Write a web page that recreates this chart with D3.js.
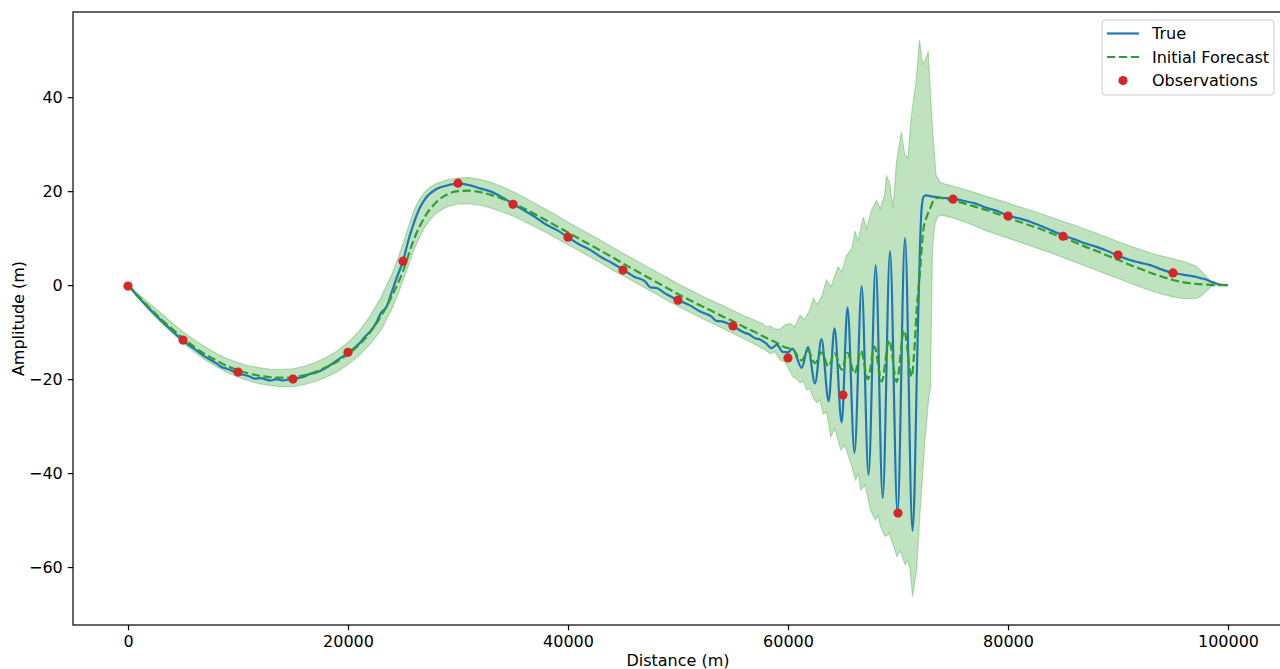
<!DOCTYPE html>
<html>
<head>
<meta charset="utf-8">
<script src="https://cdn.jsdelivr.net/npm/d3@7"></script>
<style>
  html, body { margin: 0; padding: 0; background: #fff; }
  svg { display: block; font-family: "DejaVu Sans", sans-serif; }
</style>
</head>
<body>
<svg id="chart" width="1280" height="669"></svg>
<script>
// ---- Data -------------------------------------------------------------
// True surface profile (distance in m, amplitude in m)
const trueX = [0,1000,2000,3000,4000,5000,6000,7000,8000,8500,9000,10000,11000,11500,12000,13000,13500,14000,15000,16000,16500,17000,18000,19000,20000,21000,21500,22000,22500,23000,23500,24000,24500,25000,25500,26000,26500,27000,28000,29000,30000,31000,32000,33000,34000,35000,36000,37000,38000,39000,40000,41000,42000,43000,44000,45000,46000,47000,47500,48000,49000,50000,51000,52000,53000,53500,54000,55000,56000,56500,57000,57500,58000,58500,59000,59500,60000,60400,61245,61818,62455,63045,63690,64227,64882,65409,66045,66700,67318,67973,68609,69273,69955,70636,71318,71500,71700,71850,72000,72150,72350,72600,73000,74000,75000,76000,77000,78000,79000,80000,81000,82000,83000,84000,85000,86000,87000,88000,89000,90000,91000,92000,93000,94000,95000,96000,97000,97500,98000,98500,99000,99500,100000];
const trueY = [0,-2.7,-5.2,-7.5,-9.7,-11.8,-13.5,-15.2,-16.6,-17.4,-17.8,-18.8,-19.4,-19.9,-19.8,-20.3,-20.0,-20.3,-19.9,-19.5,-18.9,-18.7,-17.6,-16.0,-14.4,-12.5,-11.1,-9.9,-8.3,-5.9,-4.6,-1.3,2.0,5.1,9.6,13.3,16.3,18.3,20.4,21.2,21.6,21.3,20.6,19.9,18.7,17.3,15.9,14.5,12.9,11.7,10.2,8.7,7.5,6.0,4.7,3.3,1.8,0.8,-0.5,-0.6,-2.0,-3.2,-4.2,-5.6,-6.6,-7.6,-7.7,-8.7,-10.1,-10.5,-11.3,-11.6,-12.4,-13.4,-12.7,-14.2,-14.3,-13.5,-17.6,-13.2,-20.9,-11.5,-24.7,-9.2,-29.2,-4.8,-35.7,-0.2,-40.4,4.2,-45.3,7.2,-48.6,10.0,-52.3,-44,-20,-5,8,16.5,18.9,19.1,18.9,18.6,18.4,17.9,17.4,16.5,15.8,14.8,14.2,13.5,12.6,11.6,10.6,9.8,8.9,8.2,7.3,6.3,5.4,4.8,4.2,3.3,2.6,2.2,1.8,1.5,1.2,0.7,0.3,0.05,0];

// Initial forecast
const forecastX = [0,1000,2000,3000,4000,5000,6000,7000,8000,9000,10000,11000,12000,13000,14000,15000,16000,17000,18000,19000,20000,21000,22000,23000,24000,25000,26000,27000,28000,29000,30000,31000,32000,33000,34000,35000,36000,37000,38000,39000,40000,41000,42000,43000,44000,45000,46000,47000,48000,49000,50000,51000,52000,53000,54000,55000,56000,57000,58000,59000,59800,60400,61245,61818,62455,63045,63690,64227,64882,65409,66045,66650,67260,67860,68520,69200,69880,70550,71245,71450,71700,72000,72300,72600,72900,73350,73800,74000,75000,76000,77000,78000,79000,80000,81000,82000,83000,84000,85000,86000,87000,88000,89000,90000,91000,92000,93000,94000,95000,96000,97000,98000,99000,100000];
const forecastY = [0,-2.5,-4.9,-7.2,-9.3,-11.3,-13.1,-14.7,-16.0,-17.2,-18.1,-18.8,-19.3,-19.6,-19.7,-19.6,-19.2,-18.5,-17.5,-16.3,-14.7,-12.7,-10.1,-6.6,-2.3,3.0,9.8,14.6,17.6,19.3,20.0,20.1,19.8,19.2,18.4,17.4,16.3,15.1,13.8,12.5,11.2,9.9,8.6,7.3,6.0,4.6,3.3,2.0,0.7,-0.6,-1.9,-3.1,-4.3,-5.4,-6.6,-7.7,-8.9,-10.0,-11.2,-12.3,-13.3,-13.6,-16.0,-14.0,-16.6,-14.3,-17.3,-14.5,-18.0,-14.4,-18.8,-14.0,-20.0,-13.1,-20.5,-11.7,-20.6,-9.6,-19.5,-15.0,-5.3,3.0,11.7,14.5,16.2,18.4,18.6,18.5,18.0,17.4,16.7,16.0,15.2,14.3,13.5,12.7,11.9,11.0,10.1,9.2,8.2,7.3,6.3,5.4,4.4,3.5,2.6,1.8,1.1,0.6,0.3,0.1,0.0,0];

// Forecast spread: upper and lower edges of the shaded band
const bandUpperX = [0,500,1000,2000,3000,4000,5000,6000,7000,8000,9000,10000,11000,12000,13000,14000,15000,16000,17000,18000,19000,20000,21000,22000,23000,24000,24500,25000,25500,26000,26500,27000,27500,28000,29000,30000,31000,32000,33000,34000,35000,36000,37000,38000,39000,40000,41000,42000,43000,44000,45000,46000,47000,48000,49000,50000,51000,52000,53000,54000,55000,56000,57000,57600,58000,58400,58800,59300,59700,60200,60600,61100,61500,62000,62300,62650,63050,63500,63900,64550,64900,65300,65800,66100,66350,66850,67150,67600,68050,68400,68800,68950,69250,69550,69850,70300,70600,70900,71200,71650,71950,72250,72500,72750,72900,73150,73450,73800,74000,75000,76000,77000,78000,79000,80000,81000,82000,83000,84000,85000,86000,87000,88000,89000,90000,91000,92000,93000,94000,95000,96000,97000,97500,98000,98500,99000,100000];
const bandUpperY = [0,-0.9,-2.0,-4.0,-6.0,-8.0,-9.9,-11.6,-13.1,-14.5,-15.6,-16.5,-17.2,-17.6,-17.9,-17.9,-17.8,-17.3,-16.5,-15.4,-14.0,-12.2,-9.8,-6.6,-2.6,2.4,5.5,8.8,12.5,16.0,18.3,19.9,20.9,21.6,22.4,22.8,22.9,22.5,21.9,21.0,19.9,18.7,17.4,16.1,14.8,13.4,12.1,10.8,9.5,8.1,6.8,5.5,4.2,2.9,1.6,0.3,-0.9,-2.1,-3.2,-4.3,-5.4,-6.5,-7.5,-8.1,-8.8,-8.7,-9.4,-9.3,-8.5,-8.1,-8.9,-6.4,-7.3,-5.2,-2.8,-4.1,-2.5,1.1,-0.3,3.9,2.8,6.2,7.8,11.5,9.4,14.5,12.0,16.0,18.1,16.3,19.5,23.4,21.6,16.5,25.9,32.6,28.0,27.0,35.8,43.6,52.2,47.0,48.0,49.8,43.0,33.0,23.5,22.0,21.7,21.1,20.4,19.7,18.9,18.2,17.5,16.7,16.0,15.2,14.4,13.6,12.8,11.9,11.1,10.2,9.3,8.4,7.6,6.8,6.2,5.6,5.0,4.1,3.2,1.9,0.6,0.05,0];
const bandLowerX = [0,500,1000,2000,3000,4000,5000,6000,7000,8000,9000,10000,11000,12000,13000,14000,15000,16000,17000,18000,19000,20000,21000,22000,23000,24000,24500,25000,25500,26000,26500,27000,27500,28000,29000,30000,31000,32000,33000,34000,35000,36000,37000,38000,39000,40000,41000,42000,43000,44000,45000,46000,47000,48000,49000,50000,51000,52000,53000,54000,55000,56000,57000,57600,58000,58400,58800,59300,59700,60200,60450,60800,61100,61400,61700,62000,62300,62600,62900,63200,63500,63900,64250,64800,65150,65700,66150,66400,66600,67000,67500,67950,68200,68400,68850,69200,69600,69900,70200,70650,70900,71100,71330,71500,71700,72000,72450,72800,72950,73050,73150,73350,73600,74000,75000,76000,77000,78000,79000,80000,81000,82000,83000,84000,85000,86000,87000,88000,89000,90000,91000,92000,93000,94000,95000,96000,97000,97500,98000,98500,99000,100000];
const bandLowerY = [0,-1.2,-2.9,-5.6,-8.0,-10.2,-12.3,-14.2,-15.9,-17.3,-18.6,-19.6,-20.4,-21.0,-21.4,-21.6,-21.6,-21.2,-20.5,-19.6,-18.5,-16.9,-15.0,-12.6,-9.6,-5.0,-2.2,1.0,4.2,7.6,10.2,12.4,14.0,15.3,16.7,17.3,17.3,17.0,16.4,15.6,14.7,13.6,12.4,11.2,9.9,8.6,7.3,6.0,4.7,3.3,2.0,0.7,-0.6,-1.9,-3.2,-4.5,-5.7,-6.9,-8.0,-9.1,-10.3,-11.4,-12.6,-13.4,-13.9,-14.6,-14.2,-16.0,-16.3,-18.5,-19.5,-20.0,-20.8,-20.5,-22.3,-22.0,-24.0,-25.0,-24.5,-27.5,-27.0,-32.3,-30.5,-35.1,-34.0,-37.8,-41.5,-40.0,-43.6,-42.5,-47.9,-50.0,-49.0,-51.4,-53.5,-52.8,-55.5,-57.8,-56.5,-59.5,-58.5,-60.6,-66.4,-63.5,-60.6,-48.6,-33.0,-24.0,-22.0,-5.0,8.0,13.0,14.6,14.9,14.3,13.5,12.6,11.6,10.8,10.0,9.2,8.4,7.6,6.8,5.9,5.0,4.1,3.2,2.3,1.4,0.5,-0.4,-1.2,-1.9,-2.5,-2.9,-2.9,-2.4,-1.3,-0.3,0,0];

// Observations
const obsX = [0,5000,10000,15000,20000,25000,30000,35000,40000,45000,50000,55000,60000,65000,70000,75000,80000,85000,90000,95000];
const obsY = [-0.2,-11.7,-18.5,-20.0,-14.3,5.1,21.7,17.2,10.2,3.2,-3.2,-8.7,-15.5,-23.4,-48.5,18.3,14.7,10.4,6.4,2.6];

// Axis ticks and labels
const xTicks = [0,20000,40000,60000,80000,100000];
const yTicks = [-60,-40,-20,0,20,40];
const xLabel = "Distance (m)";
const yLabel = "Amplitude (m)";
const legendLabels = ["True","Initial Forecast","Observations"];

// ---- Layout -----------------------------------------------------------
const plot = { left: 73, top: 12, right: 1283, bottom: 625 };
const colTrue = "#1f77b4", colFc = "#2ca02c", colObs = "#d62728";
const fontPx = "16px";

const svg = d3.select("#chart");

// x: data range with 5% margins
const xMin = d3.min([...trueX, ...forecastX, ...obsX]);
const xMax = d3.max([...trueX, ...forecastX, ...obsX]);
const xPad = (xMax - xMin) * 0.05;
const x = d3.scaleLinear().domain([xMin - xPad, xMax + xPad]).range([plot.left, plot.right]);

const allY = [...trueY, ...forecastY, ...bandUpperY, ...bandLowerY, ...obsY];
const yMin = d3.min(allY), yMax = d3.max(allY);
const yPad = (yMax - yMin) * 0.05;
const y = d3.scaleLinear().domain([yMin - yPad, yMax + yPad]).range([plot.bottom, plot.top]);

svg.append("defs").append("clipPath").attr("id", "plotClip")
  .append("rect")
  .attr("x", plot.left).attr("y", plot.top)
  .attr("width", plot.right - plot.left).attr("height", plot.bottom - plot.top);

const g = svg.append("g").attr("clip-path", "url(#plotClip)");

// Shaded spread: upper edge forward, lower edge back
const upperPts = bandUpperX.map((d, i) => [x(d), y(bandUpperY[i])]);
const lowerPts = bandLowerX.map((d, i) => [x(d), y(bandLowerY[i])]).reverse();
g.append("path")
  .attr("d", d3.line()(upperPts.concat(lowerPts)) + "Z")
  .attr("fill", colFc).attr("fill-opacity", 0.3)
  .attr("stroke", colFc).attr("stroke-opacity", 0.3).attr("stroke-width", 1.2);

// True profile
const lineGen = d3.line().curve(d3.curveMonotoneX);
g.append("path")
  .attr("d", lineGen(trueX.map((d, i) => [x(d), y(trueY[i])])))
  .attr("fill", "none").attr("stroke", colTrue).attr("stroke-width", 2.2)
  .attr("stroke-linejoin", "round");

// Initial forecast
g.append("path")
  .attr("d", lineGen(forecastX.map((d, i) => [x(d), y(forecastY[i])])))
  .attr("fill", "none").attr("stroke", colFc).attr("stroke-width", 2.2)
  .attr("stroke-dasharray", "8.3,3.6");

// Observations
g.selectAll("circle.obs").data(obsX).join("circle")
  .attr("class", "obs")
  .attr("cx", d => x(d)).attr("cy", (d, i) => y(obsY[i]))
  .attr("r", 4.6).attr("fill", colObs);

// ---- Axes -------------------------------------------------------------
const fmtY = d => (d < 0 ? "\u2212" + Math.abs(d) : String(d));

const xAxis = svg.append("g").attr("transform", `translate(0,${plot.bottom})`)
  .call(d3.axisBottom(x).tickValues(xTicks).tickFormat(d => String(d)).tickSizeOuter(0).tickSize(5.25).tickPadding(5));
const yAxis = svg.append("g").attr("transform", `translate(${plot.left},0)`)
  .call(d3.axisLeft(y).tickValues(yTicks).tickFormat(fmtY).tickSizeOuter(0).tickSize(5.25).tickPadding(5));

[xAxis, yAxis].forEach(ax => {
  ax.select(".domain").remove();
  ax.selectAll(".tick line").attr("stroke", "#000").attr("stroke-width", 1.2);
  ax.selectAll(".tick text").attr("fill", "#000")
    .style("font-family", "'DejaVu Sans', sans-serif").style("font-size", fontPx);
});

// Frame
svg.append("rect")
  .attr("x", plot.left).attr("y", plot.top)
  .attr("width", plot.right - plot.left).attr("height", plot.bottom - plot.top)
  .attr("fill", "none").attr("stroke", "#000").attr("stroke-width", 1.2);

svg.append("text")
  .attr("x", (plot.left + plot.right) / 2).attr("y", 660)
  .attr("text-anchor", "middle").attr("dominant-baseline", "central")
  .style("font-size", fontPx).text(xLabel);

svg.append("text")
  .attr("transform", `translate(18,${(plot.top + plot.bottom) / 2}) rotate(-90)`)
  .attr("text-anchor", "middle").attr("dominant-baseline", "central")
  .style("font-size", fontPx).text(yLabel);

// ---- Legend -----------------------------------------------------------
const lg = svg.append("g");
lg.append("rect")
  .attr("x", 1102).attr("y", 20).attr("width", 172).attr("height", 75)
  .attr("rx", 3).attr("fill", "#fff").attr("fill-opacity", 0.8)
  .attr("stroke", "#ccc").attr("stroke-width", 1);

const rowY = [33.5, 57, 80.5];
lg.append("line").attr("x1", 1107).attr("x2", 1139).attr("y1", rowY[0]).attr("y2", rowY[0])
  .attr("stroke", colTrue).attr("stroke-width", 2.2);
lg.append("line").attr("x1", 1107).attr("x2", 1139).attr("y1", rowY[1]).attr("y2", rowY[1])
  .attr("stroke", colFc).attr("stroke-width", 2.2).attr("stroke-dasharray", "8.3,3.6");
lg.append("circle").attr("cx", 1123).attr("cy", rowY[2]).attr("r", 4.6).attr("fill", colObs);

legendLabels.forEach((t, i) => {
  lg.append("text").attr("x", 1152).attr("y", rowY[i])
    .attr("dominant-baseline", "central").style("font-size", fontPx).text(t);
});
</script>
</body>
</html>
